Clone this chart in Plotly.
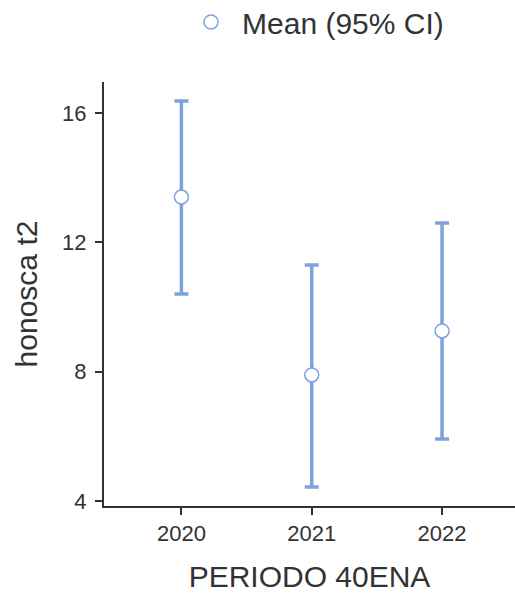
import plotly.graph_objects as go

periods = ["2020", "2021", "2022"]
means = [13.40, 7.90, 9.26]
upper = [16.37, 11.30, 12.60]
lower = [10.40, 4.43, 5.92]

err_plus = [u - m for u, m in zip(upper, means)]
err_minus = [m - l for m, l in zip(means, lower)]

blue = "#7da2dc"
font = "Liberation Sans, Arial, Helvetica, sans-serif"
dark = "#333333"

fig = go.Figure()
fig.add_trace(go.Scatter(
    x=periods, y=means, mode="markers", name="Mean (95% CI)",
    marker=dict(size=14, color="white", line=dict(color=blue, width=1.5)),
    error_y=dict(type="data", symmetric=False, array=err_plus, arrayminus=err_minus,
                 color=blue, thickness=3.5, width=7),
))

fig.update_layout(
    width=515, height=595,
    margin=dict(l=104, r=0, t=82, b=89),
    paper_bgcolor="white", plot_bgcolor="white",
    font=dict(family=font, color=dark),
    showlegend=True,
    legend=dict(orientation="h", x=0.185, y=1 - 22 / 595, xanchor="left", yanchor="middle",
                yref="container", itemwidth=52, font=dict(size=30, color=dark)),
    xaxis=dict(
        type="category", range=[-0.594, 2.56], automargin=False,
        showline=True, linecolor=dark, linewidth=2,
        ticks="outside", ticklen=7, tickwidth=2, tickcolor=dark,
        tickfont=dict(size=22, color=dark), showgrid=False, zeroline=False,
        title=dict(text="PERIODO 40ENA", font=dict(size=30, color=dark), standoff=21),
    ),
    yaxis=dict(
        range=[3.845, 16.96], tickvals=[4, 8, 12, 16], automargin=False,
        showline=True, linecolor=dark, linewidth=2,
        ticks="outside", ticklen=7, tickwidth=2, tickcolor=dark,
        ticklabelstandoff=4,
        tickfont=dict(size=22, color=dark), showgrid=False, zeroline=False,
        title=dict(text="honosca t2", font=dict(size=30, color=dark), standoff=16),
    ),
)

fig.write_html("out.html")
